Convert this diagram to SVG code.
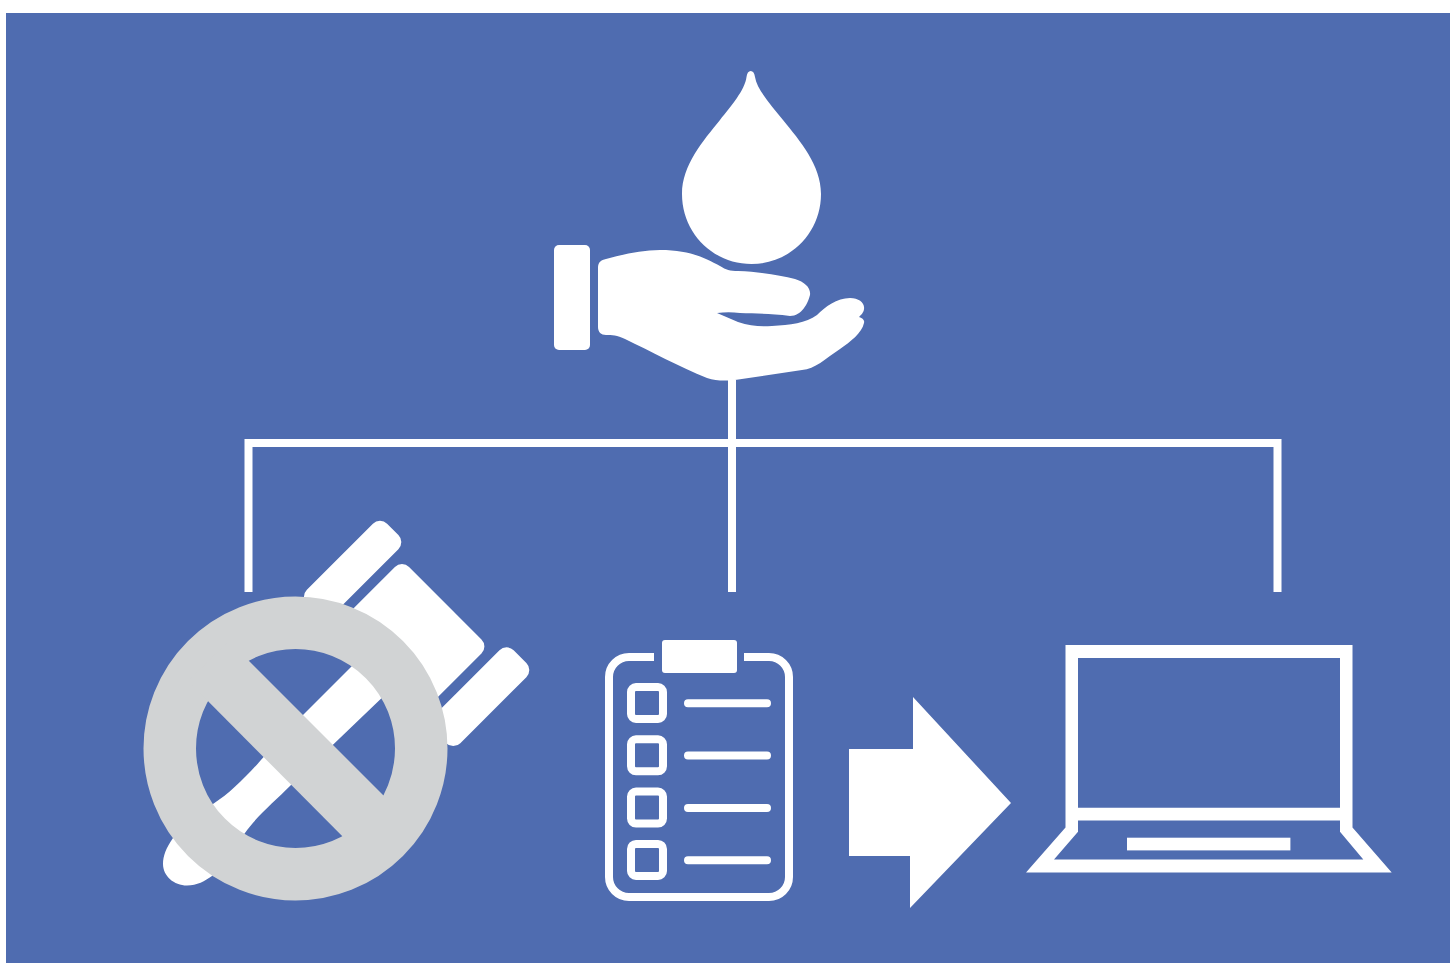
<svg xmlns="http://www.w3.org/2000/svg" width="1450" height="963" viewBox="0 0 1450 963">
<style>
.w{fill:#fff}
.l{fill:none;stroke:#fff;stroke-width:8}
</style>
<rect width="1450" height="963" fill="#fff"/>
<rect x="6" y="13" width="1444" height="950" fill="#4f6cb0"/>
<g id="connectors"><path class="l" d="M732 380V592M248.500 592V443H1277.500V592"/></g>
<g id="drop-hand">
<path class="w" d="M750.700 71C753 71 754.500 73 755 77C757 90 772 106 783 120C800 141 821 165 821 194C821 233 790 264 751.500 264C713 264 682 233 682 194C682 165 703 141 720 120C731 106 745 90 746.500 77C747 73 748.500 71 750.700 71Z"/>
<rect class="w" x="554" y="245" width="36" height="105" rx="5"/>
<path class="w" d="M598 268C598 262 601 260 606 259C625 254 642 250 660 250C690 250 705 258 720 266C726 270 730 271 738 271C760 272 780 275 795 279C805 282 811 288 810 295C808 303 802 316 790 316C770 313 755 314 740 313C732 312 725 312 717 313L738 322C750 326 760 327 772 326C790 325 806 323 817 315C825 307 837 298 850 298C859 298 865 303 864 309C864 312 861 315 859 317C862 318 865 320 864 323C862 333 850 342 840 349C825 359 815 369 802 370L735 380C725 381 716 381 707 378C680 367 650 351 625 339C617 335 612 335 606 335C601 335 598 332 598 327Z"/>
</g>
<g id="plug">
<g transform="rotate(-45)" class="w">
<rect x="-210" y="634" width="113.400" height="36" rx="10"/>
<rect x="-200" y="680.200" width="88.300" height="122.400" rx="10"/>
<rect x="-210" y="813" width="113.400" height="38" rx="10"/>
</g>
<path class="w" d="M360 658L292 726C270 748 243 785 213 804L173 838C166 848 163 856 163 864C163 876 174 885.500 187 885.500C197 885.500 205 881 212 876L245 833C255 818 275 801 291 785L389 691Z"/>
<circle cx="295.500" cy="748.500" r="125.750" fill="none" stroke="#d1d3d4" stroke-width="52.500"/>
<path fill="#d1d3d4" d="M229 641L403 815L362 856L188 681Z"/>
</g>
<g id="clipboard">
<path class="l" d="M654 657H629A20 20 0 0 0 609 677V877A20 20 0 0 0 629 897H769A20 20 0 0 0 789 877V677A20 20 0 0 0 769 657H744"/>
<rect class="w" x="662" y="640" width="75" height="33" rx="3"/>
<g fill="none" stroke="#fff" stroke-width="8">
<rect x="631" y="687" width="32" height="32" rx="5"/>
<rect x="631" y="739.300" width="32" height="32" rx="5"/>
<rect x="631" y="791.600" width="32" height="32" rx="5"/>
<rect x="631" y="843.900" width="32" height="32" rx="5"/>
<path stroke-linecap="round" d="M688 703.300H767M688 755.600H767M688 807.900H767M688 860.200H767"/>
</g>
</g>
<g id="arrow"><path class="w" d="M849 749H913V697L1011 803L910 908V856H849Z"/></g>
<g id="laptop">
<path class="w" fill-rule="evenodd" d="M1065.500 645H1352.500V827.500L1391.700 872.500H1026L1065.500 827.500ZM1078 658V807.800H1340V658ZM1078 820.400V831.700L1054 859.500H1363.300L1340 831.700V820.400Z"/>
<rect class="w" x="1127" y="837.700" width="163.400" height="12.700"/>
</g>
</svg>
